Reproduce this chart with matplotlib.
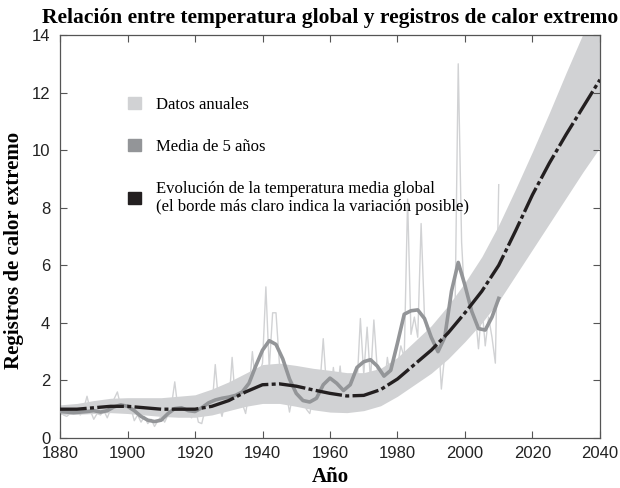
import numpy as np
import matplotlib.pyplot as plt
from matplotlib.patches import Patch

plt.rcParams['font.family'] = 'Liberation Sans'

# annual extreme heat records, 1880-2010
years = np.arange(1880, 2011)
annual = [0.95, 0.80, 0.75, 0.85, 1.05, 0.90, 0.80, 1.00, 1.45, 0.95,
          0.65, 0.85, 0.80, 0.95, 0.70, 1.00, 1.35, 1.60, 1.10, 1.00,
          1.20, 1.05, 0.60, 0.80, 0.55, 0.75, 0.50, 0.65, 0.40, 0.60,
          0.75, 0.55, 0.80, 1.10, 1.95, 0.95, 0.80, 1.15, 0.85, 0.70,
          1.10, 0.55, 0.50, 1.00, 1.20, 1.00, 2.55, 1.20, 0.75, 1.30,
          1.10, 2.80, 1.20, 1.50, 1.20, 0.85, 1.60, 3.00, 1.80, 2.20,
          2.60, 5.25, 2.40, 4.35, 4.35, 2.60, 2.20, 1.60, 0.90, 1.50,
          1.30, 1.20, 1.60, 1.00, 0.85, 1.40, 1.20, 1.80, 3.45, 1.70,
          1.30, 2.45, 1.40, 2.50, 1.20, 1.60, 1.40, 2.10, 1.80, 4.15,
          2.20, 3.85, 2.00, 4.10, 2.40, 1.90, 1.70, 2.80, 2.00, 1.80,
          2.50, 3.20, 2.80, 8.30, 3.60, 4.20, 3.50, 7.45, 4.20, 3.60,
          2.50, 3.20, 3.80, 1.70, 2.90, 3.40, 4.80, 3.90, 13.00, 6.80,
          4.60, 3.50, 5.20, 4.40, 3.10, 4.60, 3.20, 4.20, 3.50, 2.60,
          8.80]

# 5-year mean, every 2 years
mean_years = np.arange(1880, 2011, 2)
mean5 = [0.92, 0.90, 0.88, 0.90, 0.92, 0.95, 0.90, 0.95, 1.08, 1.15,
         1.10, 0.95, 0.75, 0.62, 0.57, 0.62, 0.85, 1.02, 1.05, 0.95,
         0.92, 1.05, 1.22, 1.32, 1.38, 1.42, 1.48, 1.60, 1.90, 2.50,
         3.05, 3.38, 3.25, 2.75, 2.05, 1.55, 1.30, 1.25, 1.38, 1.85,
         2.08, 1.90, 1.65, 1.85, 2.45, 2.65, 2.72, 2.50, 2.15, 2.35,
         3.30, 4.30, 4.42, 4.45, 4.15, 3.50, 3.00, 3.50, 5.10, 6.10,
         5.30, 4.40, 3.80, 3.75, 4.20, 4.85]

# global mean temperature evolution and its possible range
trend_years = np.arange(1880, 2041, 5)
trend = [1.00, 1.00, 1.05, 1.10, 1.10, 1.05, 1.00, 1.00, 1.00, 1.10,
         1.30, 1.60, 1.85, 1.88, 1.80, 1.67, 1.55, 1.46, 1.48, 1.68,
         2.05, 2.55, 3.05, 3.65, 4.35, 5.10, 6.00, 7.20, 8.45, 9.55,
         10.55, 11.50, 12.45]
band_low = [0.82, 0.82, 0.85, 0.88, 0.85, 0.80, 0.75, 0.72, 0.72, 0.80,
            0.95, 1.10, 1.20, 1.20, 1.10, 0.98, 0.90, 0.88, 0.95, 1.12,
            1.45, 1.85, 2.25, 2.75, 3.35, 4.00, 4.75, 5.65, 6.55, 7.45,
            8.35, 9.25, 10.10]
band_high = [1.15, 1.20, 1.30, 1.38, 1.40, 1.40, 1.40, 1.45, 1.50, 1.70,
             1.95, 2.25, 2.55, 2.60, 2.52, 2.42, 2.35, 2.27, 2.27, 2.42,
             2.80, 3.35, 3.90, 4.60, 5.40, 6.30, 7.40, 8.65, 9.95, 11.30,
             12.70, 14.05, 15.40]

c_light = '#d1d2d4'
c_mid = '#939598'
c_dark = '#231f20'

fig = plt.figure(figsize=(6.2, 4.88), dpi=100)
ax = fig.add_axes([0.0968, 0.1025, 0.8709, 0.8257])

ax.fill_between(trend_years, band_low, band_high, color=c_light, lw=0, zorder=1)
ax.plot(years, annual, color=c_light, lw=1.0, zorder=2)
ax.plot(mean_years, mean5, color=c_mid, lw=2.6, zorder=3)
ax.plot(trend_years, trend, color=c_dark, lw=2.4, zorder=4,
        dashes=(8, 1.0, 1.2, 1.0))

ax.set_xlim(1880, 2040)
ax.set_ylim(0, 14)
ax.set_xticks(range(1880, 2041, 20))
ax.set_yticks(range(0, 15, 2))
ax.tick_params(direction='in', length=5, width=0.8, color='#555555',
               labelsize=12, labelcolor='#222222', top=True, right=True)
ax.tick_params(axis='x', pad=6)
ax.tick_params(axis='y', pad=7)
for s in ax.spines.values():
    s.set_color('#555555')
    s.set_linewidth(0.9)

serif = 'Liberation Serif'
ax.set_title('Relación entre temperatura global y registros de calor extremo',
             family=serif, fontweight='bold', fontsize=15.5, pad=9)
ax.set_ylabel('Registros de calor extremo', family=serif, fontweight='bold',
              fontsize=15)
ax.yaxis.set_label_coords(-0.066, 0.465)
ax.set_xlabel('Año', family=serif, fontweight='bold', fontsize=15, labelpad=4)

handles = [Patch(color=c_light), Patch(color=c_mid), Patch(color=c_dark)]
labels = ['Datos anuales', 'Media de 5 años',
          'Evolución de la temperatura media global\n'
          '(el borde más claro indica la variación posible)']
ax.legend(handles, labels, loc='upper left', bbox_to_anchor=(0.126, 0.847),
          borderpad=0, borderaxespad=0, frameon=False,
          handlelength=0.8, handleheight=0.8, handletextpad=0.85,
          labelspacing=1.55, prop={'family': serif, 'size': 12})

fig.savefig('out.png', dpi=100)
